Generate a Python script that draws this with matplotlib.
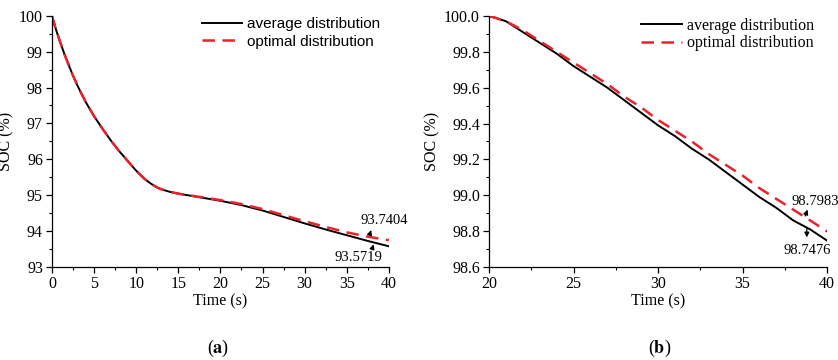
import matplotlib.pyplot as plt
from matplotlib.ticker import MultipleLocator

# (a) whole run, 0-40 s
t_a = [0, 0.5, 1, 1.5, 2, 2.5, 3, 3.5, 4, 5, 6, 7, 8, 9, 10, 11, 11.5, 12, 12.5, 13,
       14, 15, 17.5, 20, 22.5, 25, 27.5, 30, 32.5, 35, 37.5, 40]
avg_a = [100, 99.6, 99.25, 98.92, 98.62, 98.33, 98.07, 97.83, 97.6, 97.2, 96.85,
         96.52, 96.22, 95.95, 95.68, 95.45, 95.36, 95.28, 95.21, 95.16,
         95.09, 95.04, 94.94, 94.84, 94.72, 94.57, 94.39, 94.21, 94.04, 93.88,
         93.72, 93.5719]
opt_a = [100, 99.6, 99.25, 98.92, 98.62, 98.33, 98.07, 97.83, 97.6, 97.2, 96.85,
         96.52, 96.22, 95.95, 95.68, 95.45, 95.36, 95.28, 95.21, 95.16,
         95.09, 95.04, 94.95, 94.86, 94.75, 94.61, 94.44, 94.27, 94.11, 93.96,
         93.84, 93.7404]

# (b) 20-40 s
t_b = list(range(20, 41))
avg_b = [100, 99.97, 99.91, 99.85, 99.79, 99.72, 99.66, 99.60, 99.53, 99.46,
         99.39, 99.33, 99.26, 99.20, 99.13, 99.06, 98.99, 98.93, 98.86, 98.81,
         98.7476]
opt_b = [100, 99.97, 99.92, 99.86, 99.80, 99.74, 99.68, 99.62, 99.55, 99.49,
         99.42, 99.36, 99.30, 99.23, 99.17, 99.11, 99.04, 98.98, 98.92, 98.86,
         98.7983]

serif = 'Liberation Serif'
plt.rcParams['font.family'] = serif
plt.rcParams['mathtext.fontset'] = 'stix'

fig = plt.figure(figsize=(8.38, 3.6), dpi=100)
ax1 = fig.add_axes([0.062, 0.259, 0.402, 0.697])
ax2 = fig.add_axes([0.5835, 0.258, 0.4035, 0.698])

red = '#e8232b'
arrow = dict(arrowstyle='-|>', color='black', lw=0.9, mutation_scale=7)

def style(ax):
    for s in ['top', 'right']:
        ax.spines[s].set_visible(False)
    for s in ['left', 'bottom']:
        ax.spines[s].set_linewidth(0.9)
    ax.tick_params(which='major', direction='out', length=4.5, width=0.9,
                   labelsize=11.5, pad=2)
    ax.tick_params(which='minor', direction='out', length=2.5, width=0.8)
    ax.set_xlabel('Time (s)', fontsize=11.5, labelpad=1)
    ax.set_ylabel('SOC (%)', fontsize=11.5, labelpad=3)

ax1.plot(t_a, avg_a, color='black', lw=1.4, label='average distribution')
ax1.plot(t_a, opt_a, color=red, lw=1.8, dashes=(5, 3), label='optimal distribution')
ax1.set_xlim(0, 40)
ax1.set_ylim(93, 100)
ax1.xaxis.set_major_locator(MultipleLocator(5))
ax1.xaxis.set_minor_locator(MultipleLocator(2.5))
ax1.yaxis.set_major_locator(MultipleLocator(1))
ax1.yaxis.set_minor_locator(MultipleLocator(0.5))
style(ax1)
ax1.legend(loc='upper right', frameon=False, prop={'family': 'Liberation Sans', 'size': 11},
           handlelength=2.6, handletextpad=0.3, labelspacing=0.2,
           bbox_to_anchor=(1.0, 1.03), borderaxespad=0.2)

ax1.text(39.5, 94.28, '93.7404', fontsize=10.5, ha='center', va='center')
ax1.annotate('', xy=(38.0, 94.1), xytext=(37.6, 93.8), arrowprops=arrow)
ax1.text(36.4, 93.25, '93.5719', fontsize=10.5, ha='center', va='center')
ax1.annotate('', xy=(38.3, 93.7), xytext=(37.95, 93.45), arrowprops=arrow)

ax2.plot(t_b, avg_b, color='black', lw=1.4, label='average distribution')
ax2.plot(t_b, opt_b, color=red, lw=1.8, dashes=(5, 3), label='optimal distribution')
ax2.set_xlim(20, 40)
ax2.set_ylim(98.6, 100)
ax2.xaxis.set_major_locator(MultipleLocator(5))
ax2.xaxis.set_minor_locator(MultipleLocator(2.5))
ax2.yaxis.set_major_locator(MultipleLocator(0.2))
ax2.yaxis.set_minor_locator(MultipleLocator(0.1))
ax2.yaxis.set_major_formatter(plt.FormatStrFormatter('%.1f'))
style(ax2)
ax2.legend(loc='upper right', frameon=False, prop={'family': serif, 'size': 11.5},
           handlelength=2.6, handletextpad=0.3, labelspacing=0.1,
           bbox_to_anchor=(0.99, 1.03), borderaxespad=0.2)

ax2.text(39.3, 98.963, '98.7983', fontsize=10.5, ha='center', va='center')
ax2.annotate('', xy=(38.9, 98.935), xytext=(38.65, 98.87), arrowprops=arrow)
ax2.text(38.8, 98.695, '98.7476', fontsize=10.5, ha='center', va='center')
ax2.annotate('', xy=(38.8, 98.75), xytext=(38.8, 98.83), arrowprops=arrow)

fig.text(218 / 838, 1 - 348 / 360, r'($\mathbf{a}$)', fontsize=13, ha='center', va='center')
fig.text(660 / 838, 1 - 348 / 360, r'($\mathbf{b}$)', fontsize=13, ha='center', va='center')

fig.savefig('out.png', dpi=100)
